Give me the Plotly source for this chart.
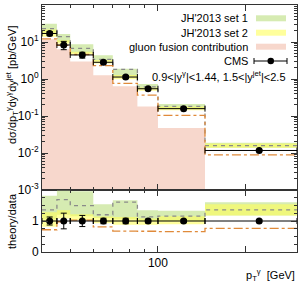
import numpy as np
import plotly.graph_objects as go
from plotly.subplots import make_subplots

# ---------------- data ----------------
edges = [40, 45, 50, 60, 70, 85, 100, 145, 300]          # pT bin edges [GeV]
cms = [17.0, 8.3, 4.47, 2.83, 1.13, 0.545, 0.158, 0.0117]  # CMS cross section
cms_err = [2.2, 2.1, 0.80, 0.25, 0.10, 0.033, 0.008, 0.0006]
set1_hi = [30.9, 16.4, 8.76, 4.36, 1.89, 0.736, 0.210, 0.0188]
set1_lo = [17.9, 9.96, 5.14, 3.11, 1.19, 0.545, 0.158, 0.0138]
set1_c = [23.1, 14.0, 6.70, 3.40, 1.82, 0.616, 0.183, 0.0159]
set2_hi = [21.8, 11.2, 5.45, 3.25, 1.28, 0.589, 0.182, 0.0180]
set2_lo = [13.8, 8.96, 4.60, 2.63, 0.99, 0.480, 0.142, 0.0138]
dashdot = [12.2, 8.1, 4.60, 2.29, 0.76, 0.365, 0.104, 0.0089]
gluon = [11.9, 6.4, 2.95, 1.26, 0.64, 0.18, 0.0475, None]

top_ticks = [1e-3, 1e-2, 1e-1, 1e0, 1e1, 1e2]
top_ticktext = ["10<sup>-3</sup>", "10<sup>-2</sup>", "10<sup>-1</sup>",
                "10<sup>0</sup>", "10<sup>1</sup>", "10<sup>2</sup>"]
x_ticks = [100, 200]
x_ticktext = ["100", ""]
x_minor = [50, 60, 70, 80, 90]

# ---------------- styles ----------------
GREEN = "#d6ebb2"
YELLOW = "rgba(255,255,90,0.6)"
YELLOW_SW = "#ffff9c"
PINK = "#f7d7cc"
ORANGE = "#e08a3a"
GREY = "#8a8a8a"
AX = "#333333"
FONT = "Liberation Sans"
YMIN = 1e-3

e = np.array(edges, dtype=float)
lo_e, hi_e = e[:-1], e[1:]
centers = (lo_e + hi_e) / 2
xerr_p = hi_e - centers
xerr_m = centers - lo_e
cms_a = np.array(cms)
err_a = np.array(cms_err)


def band(lo, hi):
    xs, ys = [], []
    for i in range(len(lo)):
        if lo[i] is None or hi[i] is None:
            continue
        xs += [lo_e[i], hi_e[i], hi_e[i], lo_e[i], lo_e[i], None]
        ys += [lo[i], lo[i], hi[i], hi[i], lo[i], None]
    return xs, ys


def step(vals):
    v = list(vals)
    return list(e), v + [v[-1]]


fig = make_subplots(rows=2, cols=1, shared_xaxes=True, vertical_spacing=0,
                    row_heights=[0.749, 0.251])

# ---- top panel ----
gx, gy = band([YMIN if g is not None else None for g in gluon], gluon)
fig.add_trace(go.Scatter(x=gx, y=gy, fill="toself", fillcolor=PINK, mode="none",
                         hoverinfo="skip"), row=1, col=1)
bx, by = band(set1_lo, set1_hi)
fig.add_trace(go.Scatter(x=bx, y=by, fill="toself", fillcolor=GREEN, mode="none"), row=1, col=1)
bx, by = band(set2_lo, set2_hi)
fig.add_trace(go.Scatter(x=bx, y=by, fill="toself", fillcolor=YELLOW, mode="none"), row=1, col=1)
sx, sy = step(set1_c)
fig.add_trace(go.Scatter(x=sx, y=sy, mode="lines", line_shape="hv",
                         line=dict(color=GREY, width=1.3, dash="4px,4px")), row=1, col=1)
sx, sy = step(dashdot)
fig.add_trace(go.Scatter(x=sx, y=sy, mode="lines", line_shape="hv",
                         line=dict(color=ORANGE, width=1.3, dash="dashdot")), row=1, col=1)
fig.add_trace(go.Scatter(
    x=centers, y=cms_a, mode="markers",
    marker=dict(color="black", size=7),
    error_x=dict(type="data", symmetric=False, array=xerr_p, arrayminus=xerr_m,
                 color="black", thickness=1, width=3),
    error_y=dict(type="data", array=err_a, color="black", thickness=1, width=3)),
    row=1, col=1)

# ---- ratio panel ----
def ratio(vals):
    return [None if v is None else v / d for v, d in zip(vals, cms)]

bx, by = band(ratio(set1_lo), ratio(set1_hi))
fig.add_trace(go.Scatter(x=bx, y=by, fill="toself", fillcolor=GREEN, mode="none"), row=2, col=1)
bx, by = band(ratio(set2_lo), ratio(set2_hi))
fig.add_trace(go.Scatter(x=bx, y=by, fill="toself", fillcolor=YELLOW, mode="none"), row=2, col=1)
sx, sy = step(ratio(set1_c))
fig.add_trace(go.Scatter(x=sx, y=sy, mode="lines", line_shape="hv",
                         line=dict(color=GREY, width=1.3, dash="4px,4px")), row=2, col=1)
sx, sy = step(ratio(dashdot))
fig.add_trace(go.Scatter(x=sx, y=sy, mode="lines", line_shape="hv",
                         line=dict(color=ORANGE, width=1.3, dash="dashdot")), row=2, col=1)
fig.add_trace(go.Scatter(
    x=centers, y=cms_a / cms_a, mode="markers",
    marker=dict(color="black", size=7),
    error_x=dict(type="data", symmetric=False, array=xerr_p, arrayminus=xerr_m,
                 color="black", thickness=1, width=3),
    error_y=dict(type="data", array=err_a / cms_a, color="black", thickness=1, width=3)),
    row=2, col=1)

# ---------------- axes ----------------
xcommon = dict(type="log", range=[np.log10(edges[0]), np.log10(edges[-1])],
               showline=True, linecolor=AX, linewidth=1, mirror="ticks",
               ticks="inside", ticklen=6, tickcolor=AX, automargin=False,
               tickvals=x_ticks, ticktext=x_ticktext, showgrid=False, zeroline=False,
               minor=dict(tickmode="array", tickvals=x_minor, ticks="inside",
                          ticklen=3, tickcolor=AX, showgrid=False),
               tickfont=dict(size=12, family=FONT, color="black"))
fig.update_xaxes(**xcommon)
fig.update_xaxes(showticklabels=False, row=1, col=1)
fig.update_xaxes(showticklabels=True, row=2, col=1)

top_minor = [m * 10.0 ** k for k in range(-3, 2) for m in range(2, 10)]
fig.update_yaxes(type="log", range=[-3, 2], tickvals=top_ticks, ticktext=top_ticktext,
                 showline=True, linecolor=AX, linewidth=1, mirror="ticks", automargin=False,
                 ticks="inside", ticklen=6, tickcolor=AX, showgrid=False, zeroline=False,
                 minor=dict(tickmode="array", tickvals=top_minor, ticks="inside",
                            ticklen=3, tickcolor=AX, showgrid=False),
                 tickfont=dict(size=12, family=FONT, color="black"),
                 row=1, col=1)
fig.update_yaxes(range=[0, 2], tickvals=[0, 1, 2], ticktext=["0", "1", ""],
                 showline=True, linecolor=AX, linewidth=1, mirror="ticks", automargin=False,
                 ticks="inside", ticklen=6, tickcolor=AX, showgrid=False, zeroline=False,
                 minor=dict(dtick=0.25, ticks="inside", ticklen=3, tickcolor=AX,
                            showgrid=False),
                 tickfont=dict(size=12, family=FONT, color="black"),
                 row=2, col=1)

# ---------------- text / legend ----------------
W0, W1, H0, H1 = 42, 297, 5, 252


def px(x):
    return (x - W0) / (W1 - W0)


def py(y):
    return (H1 - y) / (H1 - H0)


ann = [
    dict(x=px(12), y=py(85), text="dσ/dp<sub>T</sub><sup>γ</sup>dy<sup>γ</sup>dy<sup>jet</sup> [pb/GeV]",
         textangle=-90, showarrow=False, xanchor="center", yanchor="middle"),
    dict(x=px(12), y=py(221), text="theory/data", textangle=-90, showarrow=False,
         xanchor="center", yanchor="middle"),
    dict(x=px(297), y=py(275), text="p<sub>T</sub><sup>γ</sup>  [GeV]", showarrow=False,
         xanchor="right", yanchor="middle"),
]
leg = [("JH'2013 set 1", 18.3), ("JH'2013 set 2", 32.7),
       ("gluon fusion contribution", 46.7), ("CMS", 61)]
for t, yy in leg:
    ann.append(dict(x=px(250), y=py(yy), text=t, showarrow=False,
                    xanchor="right", yanchor="middle"))
ann.append(dict(x=px(288), y=py(76),
                text="0.9&lt;|y<sup>γ</sup>|&lt;1.44, 1.5&lt;|y<sup>jet</sup>|&lt;2.5",
                showarrow=False, xanchor="right", yanchor="middle"))
for a in ann:
    a.update(xref="paper", yref="paper", font=dict(size=11, family=FONT, color="black"))

shapes = []
for col, yy in [(GREEN, 18.3), (YELLOW_SW, 32.7), (PINK, 46.7)]:
    shapes.append(dict(type="rect", xref="paper", yref="paper",
                       x0=px(256), x1=px(286), y0=py(yy + 3), y1=py(yy - 3),
                       fillcolor=col, line=dict(width=0)))
yc = 61
shapes.append(dict(type="line", xref="paper", yref="paper", x0=px(254), x1=px(287),
                   y0=py(yc), y1=py(yc), line=dict(color="black", width=1)))
for xx in (254, 287):
    shapes.append(dict(type="line", xref="paper", yref="paper", x0=px(xx), x1=px(xx),
                       y0=py(yc - 3), y1=py(yc + 3), line=dict(color="black", width=1)))
shapes.append(dict(type="circle", xref="paper", yref="paper",
                   x0=px(267.5), x1=px(274), y0=py(yc + 3.2), y1=py(yc - 3.2),
                   fillcolor="black", line=dict(width=0)))

fig.update_layout(width=300, height=282, margin=dict(l=42, r=3, t=5, b=30),
                  paper_bgcolor="white", plot_bgcolor="white", showlegend=False,
                  font=dict(family=FONT, size=11, color="black"),
                  annotations=ann, shapes=shapes)

fig.write_html("out.html", config={"displayModeBar": False},
               post_script="document.body.style.margin='0';document.body.style.overflow='hidden';")
